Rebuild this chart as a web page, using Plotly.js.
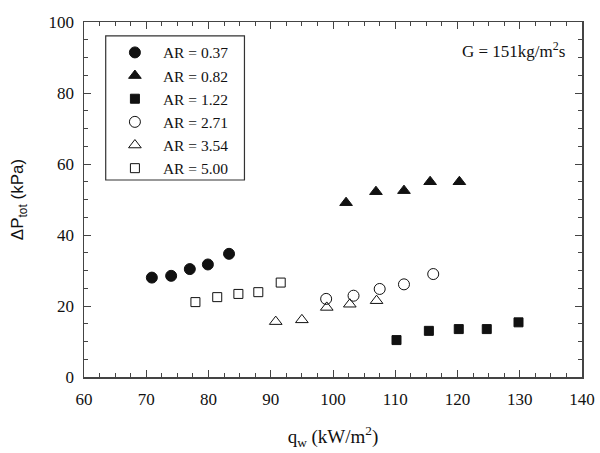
<!DOCTYPE html>
<html>
<head>
<meta charset="utf-8">
<script src="https://cdn.plot.ly/plotly-3.0.1.min.js"></script>
<style>
  html, body { margin: 0; padding: 0; background: #fff; }
  #chart { width: 600px; height: 453px; }
</style>
</head>
<body>
<div id="chart"></div>
<script>
// heat flux q_w (kW/m2) and total pressure drop (kPa) per aspect ratio
const ar037X = [70.9, 74.0, 77.0, 79.9, 83.3];
const ar037Y = [28.0, 28.5, 30.4, 31.7, 34.7];
const ar082X = [102.1, 106.9, 111.4, 115.6, 120.3];
const ar082Y = [49.1, 52.2, 52.5, 55.0, 55.0];
const ar122X = [110.2, 115.4, 120.2, 124.7, 129.8];
const ar122Y = [10.4, 13.0, 13.5, 13.5, 15.4];
const ar271X = [98.9, 103.3, 107.5, 111.4, 116.1];
const ar271Y = [22.0, 22.9, 24.8, 26.1, 29.0];
const ar354X = [90.8, 95.0, 99.0, 102.7, 107.0];
const ar354Y = [15.6, 16.1, 19.6, 20.5, 21.5];
const ar500X = [77.9, 81.4, 84.8, 88.0, 91.6];
const ar500Y = [21.1, 22.5, 23.4, 23.9, 26.6];

const seriesNames = ["AR = 0.37", "AR = 0.82", "AR = 1.22", "AR = 2.71", "AR = 3.54", "AR = 5.00"];
const seriesX = [ar037X, ar082X, ar122X, ar271X, ar354X, ar500X];
const seriesY = [ar037Y, ar082Y, ar122Y, ar271Y, ar354Y, ar500Y];
const symbols = ["circle", "triangle-up", "square", "circle-open", "triangle-up-open", "square-open"];
const sizes = [11, 11, 9, 11, 11, 9];

const serif = "Liberation Serif, Times New Roman, serif";
const ink = "#111";

const traces = seriesNames.map((name, i) => ({
    x: seriesX[i],
    y: seriesY[i],
    name: name,
    type: "scatter",
    mode: "markers",
    marker: {
        symbol: symbols[i],
        size: sizes[i],
        color: ink,
        line: { color: ink, width: 1 }
    }
}));

const axisBase = {
    showline: true,
    linecolor: "#444",
    linewidth: 1.5,
    mirror: "ticks",
    ticks: "inside",
    ticklen: 7,
    tickwidth: 1,
    tickcolor: "#444",
    showgrid: false,
    zeroline: false,
    tickfont: { family: serif, size: 17, color: ink }
};

const layout = {
    width: 600,
    height: 453,
    margin: { l: 84, r: 18, t: 22, b: 76 },
    paper_bgcolor: "#fff",
    plot_bgcolor: "#fff",
    showlegend: true,
    legend: {
        x: 0.046,
        y: 0.961,
        xanchor: "left",
        yanchor: "top",
        bgcolor: "rgba(0,0,0,0)",
        borderwidth: 0,
        font: { family: serif, size: 15.5, color: ink },
        itemwidth: 46,
        tracegroupgap: 0
    },
    xaxis: Object.assign({}, axisBase, {
        range: [60, 140],
        dtick: 10,
        ticklabelstandoff: 6,
        minor: { dtick: 2.5, ticks: "inside", ticklen: 4, tickcolor: "#444" },
        title: {
            text: "q<sub>w</sub> (kW/m<sup>2</sup>)",
            font: { family: serif, size: 19, color: ink },
            standoff: 22
        }
    }),
    yaxis: Object.assign({}, axisBase, {
        range: [0, 100],
        dtick: 20,
        ticklabelstandoff: 5,
        minor: { dtick: 5, ticks: "inside", ticklen: 4, tickcolor: "#444" },
        title: {
            text: "ΔP<sub>tot</sub> (kPa)",
            font: { family: "Liberation Sans, Arial, sans-serif", size: 17, color: ink },
            standoff: 20
        }
    }),
    shapes: [{
        type: "rect",
        xref: "paper", yref: "paper",
        x0: 0.0436, x1: 0.3222,
        y0: 0.555, y1: 0.961,
        line: { color: "#333", width: 1.2 },
        fillcolor: "rgba(0,0,0,0)"
    }],
    annotations: [{
        xref: "paper", yref: "paper",
        x: 0.97, y: 0.92,
        xanchor: "right", yanchor: "middle",
        showarrow: false,
        text: "G = 151kg/m<sup>2</sup>s",
        font: { family: serif, size: 17, color: ink }
    }]
};

Plotly.newPlot("chart", traces, layout, { displayModeBar: false, staticPlot: true });
</script>
</body>
</html>
